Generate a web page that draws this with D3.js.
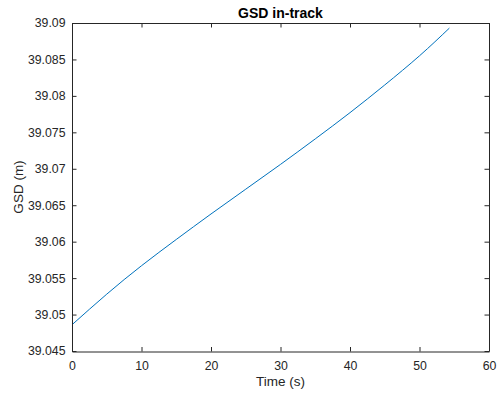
<!DOCTYPE html>
<html>
<head>
<meta charset="utf-8">
<script src="https://cdn.jsdelivr.net/npm/d3@7"></script>
<style>
  html, body { margin: 0; padding: 0; background: #fff; }
  svg { display: block; font-family: "Liberation Sans", Arial, sans-serif; }
</style>
</head>
<body>
<svg id="chart" width="498" height="394"></svg>
<script>
// Ground sample distance (in-track) over time
const timeS = [0, 5, 10, 15, 20, 25, 30, 35, 40, 45, 50, 54.3];
const gsdM  = [39.0486, 39.0528, 39.0567, 39.0603, 39.0638, 39.0672,
               39.0706, 39.0741, 39.0777, 39.0815, 39.0855, 39.0893];
const xTicks = [0, 10, 20, 30, 40, 50, 60];
const yTicks = [39.045, 39.05, 39.055, 39.06, 39.065, 39.07, 39.075, 39.08, 39.085, 39.09];

const W = 498, H = 394;
const m = { left: 72, right: 9, top: 23, bottom: 43 };
const axisColor = "#262626";
const tickFont = 12.3;
const labelFont = 13.5;

const svg = d3.select("#chart");
const x = d3.scaleLinear().domain([0, 60]).range([m.left, W - m.right]);
const y = d3.scaleLinear().domain([39.045, 39.09]).range([H - m.bottom, m.top]);

const fmtY = v => String(+v.toFixed(3));
const tickLen = 4.5;

// Data line
const data = timeS.map((t, i) => ({ t, v: gsdM[i] }));
svg.append("path")
  .datum(data)
  .attr("fill", "none")
  .attr("stroke", "#0072BD")
  .attr("stroke-width", 1)
  .attr("d", d3.line().x(d => x(d.t)).y(d => y(d.v)).curve(d3.curveNatural));

// Axes (bottom/left with labels, top/right mirror ticks only)
const styleAxis = (g) => {
  g.select(".domain").attr("stroke", axisColor).attr("stroke-width", 1);
  g.selectAll(".tick line").attr("stroke", axisColor).attr("stroke-width", 1);
  g.selectAll(".tick text").attr("fill", axisColor).attr("font-size", tickFont);
};

svg.append("g")
  .attr("transform", `translate(0,${H - m.bottom + 0.5})`)
  .call(d3.axisBottom(x).tickValues(xTicks).tickFormat(d3.format("d"))
        .tickSizeInner(-tickLen).tickSizeOuter(0).tickPadding(9.5))
  .call(styleAxis);

svg.append("g")
  .attr("transform", `translate(0,${m.top})`)
  .call(d3.axisTop(x).tickValues(xTicks).tickFormat("")
        .tickSizeInner(-tickLen).tickSizeOuter(0))
  .call(styleAxis);

svg.append("g")
  .attr("transform", `translate(${m.left},0)`)
  .call(d3.axisLeft(y).tickValues(yTicks).tickFormat(fmtY)
        .tickSizeInner(-tickLen).tickSizeOuter(0).tickPadding(6.5))
  .call(styleAxis);

svg.append("g")
  .attr("transform", `translate(${W - m.right},0)`)
  .call(d3.axisRight(y).tickValues(yTicks).tickFormat("")
        .tickSizeInner(-tickLen).tickSizeOuter(0))
  .call(styleAxis);

svg.selectAll("g text").attr("font-family", "Liberation Sans, Arial, sans-serif");

// Title and axis labels
svg.append("text")
  .attr("x", (m.left + W - m.right) / 2)
  .attr("y", 18.3)
  .attr("text-anchor", "middle")
  .attr("font-size", 14)
  .attr("font-weight", "bold")
  .attr("fill", "#000")
  .text("GSD in-track");

svg.append("text")
  .attr("x", (m.left + W - m.right) / 2)
  .attr("y", 386)
  .attr("text-anchor", "middle")
  .attr("font-size", labelFont)
  .attr("fill", axisColor)
  .text("Time (s)");

svg.append("text")
  .attr("transform", `translate(23,${(m.top + H - m.bottom) / 2}) rotate(-90)`)
  .attr("text-anchor", "middle")
  .attr("font-size", labelFont)
  .attr("fill", axisColor)
  .text("GSD (m)");
</script>
</body>
</html>
